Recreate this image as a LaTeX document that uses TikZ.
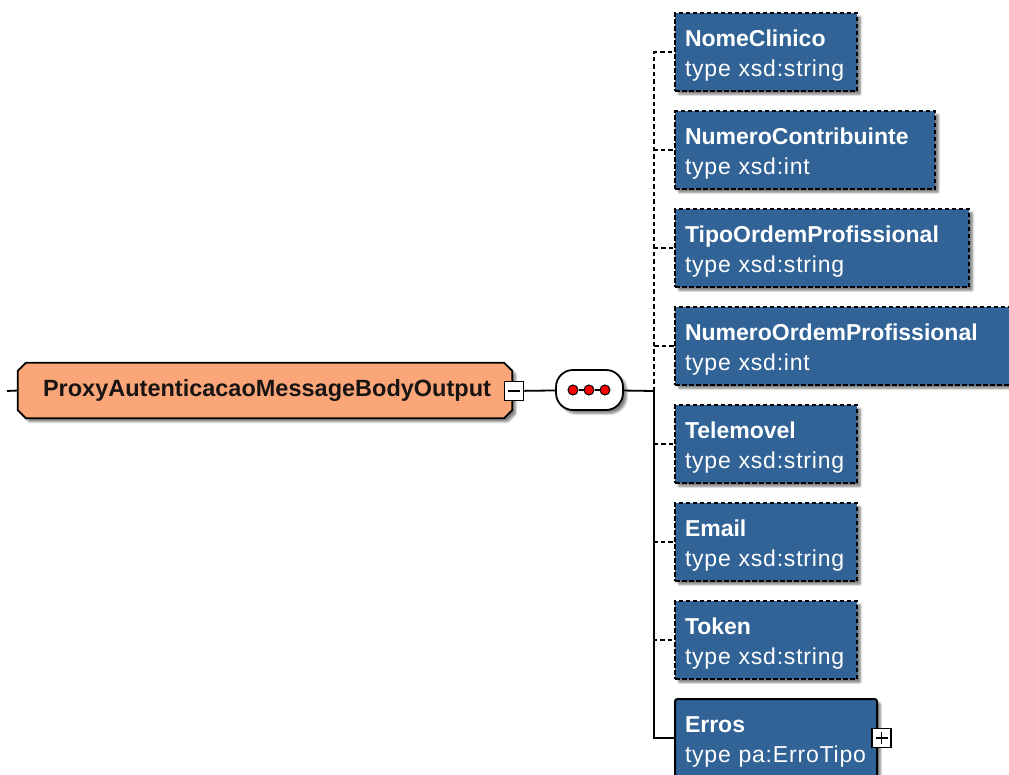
\documentclass[tikz,border=0pt]{standalone}
\usepackage{fontspec}
\setmainfont{Liberation Sans}
\newfontfamily\typefont[LetterSpace=3.5]{Liberation Sans}
\usetikzlibrary{calc,shadows.blur}

\definecolor{elemblue}{RGB}{49,99,150}
\definecolor{rootfill}{RGB}{250,166,120}
\definecolor{rootink}{RGB}{25,20,20}

\tikzset{
  softshadow/.style={blur shadow={shadow xshift=3.5pt, shadow yshift=-3.5pt,
      shadow blur steps=6, shadow blur extra rounding=1pt, shadow opacity=50}},
  elembox/.style={rectangle, anchor=north west, fill=elemblue, draw=black,
      line width=2pt, minimum height=78pt, text=white, align=left,
      inner xsep=10pt, inner ysep=0pt,
      font=\fontsize{23}{30}\selectfont, softshadow},
  optbox/.style={elembox, dash pattern=on 4.5pt off 2.5pt},
  reqbox/.style={elembox, rounded corners=2.5pt},
  link/.style={line width=1.8pt, draw=black},
  optlink/.style={link, line width=1.6pt, dash pattern=on 4.5pt off 3pt},
  togglebox/.style={rectangle, draw=black, fill=white, line width=1.6pt,
      minimum width=19pt, minimum height=19pt, inner sep=0pt},
  seqbox/.style={rectangle, rounded corners=17pt, draw=black, fill=white,
      line width=1.8pt, minimum width=67pt, minimum height=40pt, softshadow},
  seqdot/.style={circle, fill=red, draw=black, line width=1pt,
      minimum size=10pt, inner sep=0pt},
}
\newcommand{\elemtext}[2]{\rule{0pt}{24pt}\textbf{#1}\\{\typefont type #2}}

\begin{document}
\begin{tikzpicture}[x=1pt, y=-1pt]
\useasboundingbox (0,0) rectangle (1009,774);

% root element: chamfered outline around an invisible frame node
\node[rectangle, minimum width=494pt, minimum height=55pt, inner sep=0pt]
      (rootframe) at (265,390.5) {};
\path[fill=rootfill, draw=black, line width=1.8pt, softshadow]
  ($(rootframe.north west)+(8,0)$) -- ($(rootframe.north east)+(-8,0)$)
  -- ($(rootframe.north east)+(0,8)$) -- ($(rootframe.south east)+(0,-8)$)
  -- ($(rootframe.south east)+(-8,0)$) -- ($(rootframe.south west)+(8,0)$)
  -- ($(rootframe.south west)+(0,-8)$) -- ($(rootframe.north west)+(0,8)$)
  -- cycle;
\node[font=\fontsize{23.5}{28}\selectfont\bfseries, text=rootink]
  (root) at (267,390.5) {ProxyAutenticacaoMessageBodyOutput};
\coordinate (rootin) at (7,391);
\draw[link] (rootin) -- (rootframe.west);

% collapse toggle and sequence compositor
\node[togglebox] (minus) at (514,391) {};
\draw[line width=1.8pt] ($(minus.center)+(-6,0)$) -- ($(minus.center)+(6,0)$);
\node[seqbox] (seq) at (589.5,390) {};
\node[seqdot] (d1) at (573,390) {};
\node[seqdot] (d2) at (589,390) {};
\node[seqdot] (d3) at (605,390) {};
\draw[line width=1.4pt] (d1) -- (d2) -- (d3);
\draw[link] (minus) -- (seq);
\coordinate (bus) at (654,391);
\draw[link] (seq) -- (bus);

% child elements
\node[optbox, text width=162pt] (e1) at (674,12)  {\elemtext{NomeClinico}{xsd:string}};
\node[optbox, text width=240pt] (e2) at (674,110) {\elemtext{NumeroContribuinte}{xsd:int}};
\node[optbox, text width=274pt] (e3) at (674,208) {\elemtext{TipoOrdemProfissional}{xsd:string}};
\node[optbox, text width=330pt] (e4) at (674,306) {\elemtext{NumeroOrdemProfissional}{xsd:int}};
\node[optbox, text width=162pt] (e5) at (674,404) {\elemtext{Telemovel}{xsd:string}};
\node[optbox, text width=162pt] (e6) at (674,502) {\elemtext{Email}{xsd:string}};
\node[optbox, text width=162pt] (e7) at (674,600) {\elemtext{Token}{xsd:string}};
\node[reqbox, text width=182pt] (e8) at (674,698) {\elemtext{Erros}{pa:ErroTipo}};

% expand toggle on the complex element
\node[togglebox] (plus) at (881.5,738) {};
\draw[line width=1.8pt] ($(plus.center)+(-6,0)$) -- ($(plus.center)+(6,0)$)
  ($(plus.center)+(0,-6)$) -- ($(plus.center)+(0,6)$);

% connectors from the sequence to its children
\foreach \e in {e1,e2,e3,e4,e5,e6,e7}
  \draw[optlink] (bus) |- (\e.west);
\draw[link] (bus) |- (e8.west);
\end{tikzpicture}
\end{document}
